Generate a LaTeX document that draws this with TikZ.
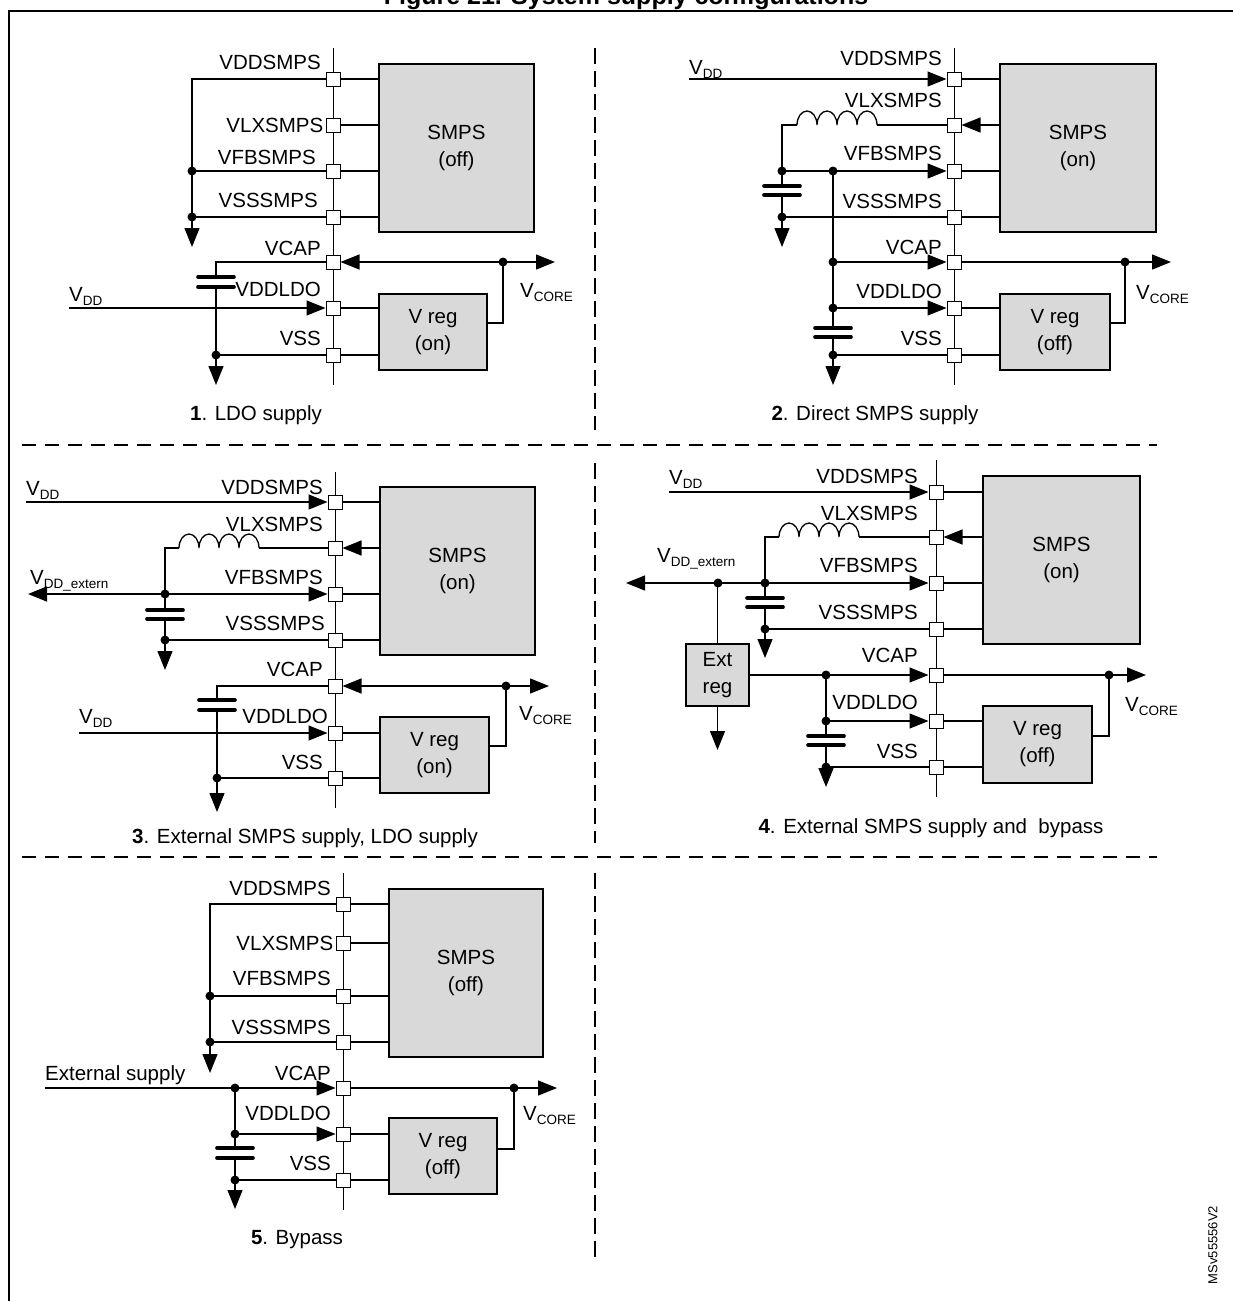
\documentclass[tikz,border=0pt]{standalone}
\usepackage{fontspec}
\setmainfont{Liberation Sans}
\usetikzlibrary{arrows.meta}
\newcommand\sbs[1]{\raisebox{-4pt}{\fontsize{13.5}{13.5}\selectfont #1}}
\newcommand\pinset[9]{\foreach \i/\yy in {1/#3,2/#4,3/#5,4/#6,5/#7,6/#8,7/#9}{\node[pin] (#1-\i) at (#2,\yy) {};}}
\newcommand\capac[3]{\draw[plate] (#1-18,#2) -- (#1+18,#2); \draw[plate] (#1-18,#3) -- (#1+18,#3);}
\newcommand\coil[2]{\draw[wire] (#1,#2) arc[start angle=0,end angle=-180,x radius=10,y radius=14] arc[start angle=0,end angle=-180,x radius=10,y radius=14] arc[start angle=0,end angle=-180,x radius=10,y radius=14] arc[start angle=0,end angle=-180,x radius=10,y radius=14];}
\newcommand\dotat[1]{\fill (#1) circle (4.5pt);}
\begin{document}
\begin{tikzpicture}[x=1pt,y=-1pt,font=\fontsize{20.5}{27}\selectfont,
  wire/.style={line width=1.3pt},
  bus/.style={line width=1pt},
  plate/.style={line width=3.6pt,line cap=round},
  pin/.style={draw,fill=white,line width=1pt,minimum size=14pt,inner sep=0pt},
  box/.style={draw,fill=gray!30,line width=1.3pt,align=center,inner sep=0pt},
  lbl/.style={inner sep=0pt},
  ar/.style={wire,-{Triangle[length=19pt,width=15pt]}},
  la/.style={wire,{Triangle[length=19pt,width=15pt]}-},
  lr/.style={wire,{Triangle[length=19pt,width=15pt]}-{Triangle[length=19pt,width=15pt]}},
  sep/.style={line width=1.2pt,dash pattern=on 14pt off 9pt},
  vsep/.style={line width=1.2pt,dash pattern=on 16pt off 7pt}]
\useasboundingbox (0,0) rectangle (1232,1301);
% frame and title
\draw[line width=1.3pt] (9,1310) -- (9,11) -- (1240,11);
\node[lbl,anchor=base,font=\bfseries\fontsize{25}{25}\selectfont] (title) at (626,4) {Figure 21. System supply configurations};
% separators
\draw[sep] (22,445) -- (1157,445);
\draw[sep] (22,857) -- (1157,857);
\draw[vsep] (595,48) -- (595,430);
\draw[vsep] (595,463) -- (595,843);
\draw[vsep] (595,873) -- (595,1257);

% ================= Panel 1
\draw[bus] (333,48) -- (333,385);
\pinset{a}{333}{79}{125}{171}{217}{262}{308}{355}
\node[box,minimum width=155pt,minimum height=168pt] (sa) at (456.5,148) {SMPS\\(off)};
\node[box,minimum width=108pt,minimum height=76pt] (va) at (433,332) {V reg\\(on)};
\foreach \i in {1,2,3,4}{\draw[wire] (a-\i.east) -- (sa.west |- a-\i);}
\foreach \i in {6,7}{\draw[wire] (a-\i.east) -- (va.west |- a-\i);}
\node[lbl,anchor=east] at (321,62) {VDDSMPS};
\node[lbl,anchor=east] at ([xshift=-2pt]a-2.west) {VLXSMPS};
\node[lbl,anchor=east] at (316,157) {VFBSMPS};
\node[lbl,anchor=east] at (318,200) {VSSSMPS};
\node[lbl,anchor=east] at (321,248) {VCAP};
\node[lbl,anchor=east] at (321,289) {VDDLDO};
\node[lbl,anchor=east] at (321,338) {VSS};
\coordinate (ga1) at (192,247);
\draw[ar] (a-1.west) -| (ga1);
\draw[wire] (192,171) -- (a-3.west);
\draw[wire] (192,217) -- (a-4.west);
\dotat{192,171}\dotat{192,217}
\draw[wire] (a-5.west) -- (216,262) -- (216,277);
\capac{216}{277}{287}
\draw[wire] (216,287) -- (216,355);
\draw[ar] (216,355) -- (216,385);
\draw[wire] (a-7.west) -- (216,355);
\dotat{216,355}
\draw[ar] (69,308) -- (a-6.west);
\node[lbl,anchor=base west] at (69,301) {V\sbs{DD}};
\draw[lr] (a-5.east) -- (555,262);
\dotat{503,262}
\draw[wire] (503,262) |- (va.east |- 0,323);
\node[lbl,anchor=west] at (520,293) {V\sbs{CORE}};
\node[lbl] at (256,415) {\textbf{1}. LDO supply};

% ================= Panel 2
\draw[bus] (954,48) -- (954,385);
\pinset{b}{954}{79}{125}{171}{217}{262}{308}{355}
\node[box,minimum width=156pt,minimum height=168pt] (sb) at (1078,148) {SMPS\\(on)};
\node[box,minimum width=110pt,minimum height=76pt] (vb) at (1055,332) {V reg\\(off)};
\foreach \i in {1,3,4}{\draw[wire] (b-\i.east) -- (sb.west |- b-\i);}
\foreach \i in {6,7}{\draw[wire] (b-\i.east) -- (vb.west |- b-\i);}
\draw[ar] (sb.west |- b-2) -- (b-2.east);
\node[lbl,anchor=east] at (942,58) {VDDSMPS};
\node[lbl,anchor=east] at (942,100) {VLXSMPS};
\node[lbl,anchor=east] at (942,153) {VFBSMPS};
\node[lbl,anchor=east] at (942,201) {VSSSMPS};
\node[lbl,anchor=east] at (942,247) {VCAP};
\node[lbl,anchor=east] at (942,291) {VDDLDO};
\node[lbl,anchor=east] at (942,338) {VSS};
\draw[ar] (689,79) -- (b-1.west);
\node[lbl,anchor=base west] at (689,74) {V\sbs{DD}};
\draw[wire] (b-2.west) -- (877,125);
\coil{877}{125}
\draw[wire] (797,125) -- (782,125) -- (782,186);
\capac{782}{186}{195}
\draw[wire] (782,195) -- (782,217);
\draw[ar] (782,217) -- (782,247);
\draw[ar] (782,171) -- (b-3.west);
\draw[wire] (b-4.west) -- (782,217);
\dotat{782,171}\dotat{833,171}\dotat{782,217}
\draw[wire] (833,171) -- (833,328);
\capac{833}{328}{337}
\draw[wire] (833,337) -- (833,355);
\draw[ar] (833,355) -- (833,385);
\draw[ar] (833,262) -- (b-5.west);
\draw[ar] (833,308) -- (b-6.west);
\draw[wire] (b-7.west) -- (833,355);
\dotat{833,262}\dotat{833,308}\dotat{833,355}
\draw[ar] (b-5.east) -- (1171,262);
\dotat{1125,262}
\draw[wire] (1125,262) |- (vb.east |- 0,323);
\node[lbl,anchor=west] at (1136,295) {V\sbs{CORE}};
\node[lbl] at (875,415) {\textbf{2}. Direct SMPS supply};

% ================= Panel 3
\draw[bus] (335,472) -- (335,808);
\pinset{c}{335}{502}{548}{594}{640}{686}{733}{778}
\node[box,minimum width=155pt,minimum height=168pt] (sc) at (457.5,571) {SMPS\\(on)};
\node[box,minimum width=109pt,minimum height=76pt] (vc) at (434.5,755) {V reg\\(on)};
\foreach \i in {1,3,4}{\draw[wire] (c-\i.east) -- (sc.west |- c-\i);}
\foreach \i in {6,7}{\draw[wire] (c-\i.east) -- (vc.west |- c-\i);}
\draw[ar] (sc.west |- c-2) -- (c-2.east);
\node[lbl,anchor=east] at (323,487) {VDDSMPS};
\node[lbl,anchor=east] at (323,524) {VLXSMPS};
\node[lbl,anchor=east] at (323,577) {VFBSMPS};
\node[lbl,anchor=east] at (325,623) {VSSSMPS};
\node[lbl,anchor=east] at (323,669) {VCAP};
\node[lbl,anchor=east] at (328,716) {VDDLDO};
\node[lbl,anchor=east] at (323,762) {VSS};
\draw[ar] (26,502) -- (c-1.west);
\node[lbl,anchor=base west] at (26,495) {V\sbs{DD}};
\draw[wire] (c-2.west) -- (259,548);
\coil{259}{548}
\draw[wire] (179,548) -- (165,548) -- (165,610);
\capac{165}{610}{619}
\draw[wire] (165,619) -- (165,640);
\draw[ar] (165,640) -- (165,670);
\draw[lr] (28,594) -- (c-3.west);
\node[lbl,anchor=base west] at (30,584) {V\sbs{DD\_extern}};
\draw[wire] (c-4.west) -- (165,640);
\dotat{165,594}\dotat{165,640}
\draw[lr] (c-5.east) -- (549,686);
\dotat{506,686}
\draw[wire] (506,686) |- (vc.east |- 0,746);
\draw[wire] (c-5.west) -- (217,686) -- (217,700);
\capac{217}{700}{710}
\draw[wire] (217,710) -- (217,778);
\draw[ar] (217,778) -- (217,812);
\draw[wire] (c-7.west) -- (217,778);
\dotat{217,778}
\draw[ar] (79,733) -- (c-6.west);
\node[lbl,anchor=base west] at (79,723) {V\sbs{DD}};
\node[lbl,anchor=west] at (519,716) {V\sbs{CORE}};
\node[lbl] at (305,838) {\textbf{3}. External SMPS supply, LDO supply};

% ================= Panel 4
\draw[bus] (936,460) -- (936,797);
\pinset{d}{936}{492}{537}{583}{629}{675}{721}{767}
\node[box,minimum width=157pt,minimum height=168pt] (sd) at (1061.5,560) {SMPS\\(on)};
\node[box,minimum width=109pt,minimum height=77pt] (vd) at (1037.5,744.5) {V reg\\(off)};
\node[box,minimum width=63pt,minimum height=62pt] (er) at (717.5,675) {Ext\\reg};
\foreach \i in {1,3,4}{\draw[wire] (d-\i.east) -- (sd.west |- d-\i);}
\foreach \i in {6,7}{\draw[wire] (d-\i.east) -- (vd.west |- d-\i);}
\draw[ar] (sd.west |- d-2) -- (d-2.east);
\node[lbl,anchor=east] at (918,476) {VDDSMPS};
\node[lbl,anchor=east] at (918,513) {VLXSMPS};
\node[lbl,anchor=east] at (918,565) {VFBSMPS};
\node[lbl,anchor=east] at (918,612) {VSSSMPS};
\node[lbl,anchor=east] at (918,655) {VCAP};
\node[lbl,anchor=east] at (918,702) {VDDLDO};
\node[lbl,anchor=east] at (918,751) {VSS};
\draw[ar] (669,492) -- (d-1.west);
\node[lbl,anchor=base west] at (669,484) {V\sbs{DD}};
\draw[wire] (d-2.west) -- (859,537);
\coil{859}{537}
\draw[wire] (779,537) -- (765,537) -- (765,598);
\capac{765}{598}{607}
\draw[wire] (765,607) -- (765,629);
\draw[ar] (765,629) -- (765,658);
\draw[lr] (626,583) -- (d-3.west);
\node[lbl,anchor=base west] at (657,562) {V\sbs{DD\_extern}};
\draw[wire] (d-4.west) -- (765,629);
\dotat{718,583}\dotat{765,583}\dotat{765,629}
\draw[wire] (717.5,583) -- (er.north);
\draw[ar] (er.south) -- (717.5,750);
\draw[ar] (er.east) -- (d-5.west);
\dotat{826,675}
\draw[ar] (d-5.east) -- (1146,675);
\dotat{1109,675}
\draw[wire] (1109,675) |- (vd.east |- 0,736);
\draw[wire] (826,675) -- (826,736);
\capac{826}{736}{745}
\draw[wire] (826,745) -- (826,767);
\draw[ar] (826,767) -- (826,787);
\draw[ar] (826,721) -- (d-6.west);
\draw[wire] (d-7.west) -- (826,767);
\dotat{826,721}\dotat{826,767}
\node[lbl,anchor=west] at (1125,707) {V\sbs{CORE}};
\node[lbl] at (931,828) {\textbf{4}. External SMPS supply and\ \ bypass};

% ================= Panel 5
\draw[bus] (343,873) -- (343,1210);
\pinset{e}{343}{904}{943}{996}{1042}{1088}{1134}{1180}
\node[box,minimum width=154pt,minimum height=168pt] (se) at (466,973) {SMPS\\(off)};
\node[box,minimum width=108pt,minimum height=76pt] (ve) at (443,1156) {V reg\\(off)};
\foreach \i in {1,2,3,4}{\draw[wire] (e-\i.east) -- (se.west |- e-\i);}
\foreach \i in {6,7}{\draw[wire] (e-\i.east) -- (ve.west |- e-\i);}
\node[lbl,anchor=east] at (331,888) {VDDSMPS};
\node[lbl,anchor=east] at ([xshift=-2pt]e-2.west) {VLXSMPS};
\node[lbl,anchor=east] at (331,978) {VFBSMPS};
\node[lbl,anchor=east] at (331,1027) {VSSSMPS};
\node[lbl,anchor=east] at (331,1073) {VCAP};
\node[lbl,anchor=east] at (331,1113) {VDDLDO};
\node[lbl,anchor=east] at (331,1163) {VSS};
\coordinate (ge1) at (210,1073);
\draw[ar] (e-1.west) -| (ge1);
\draw[wire] (210,996) -- (e-3.west);
\draw[wire] (210,1042) -- (e-4.west);
\dotat{210,996}\dotat{210,1042}
\draw[ar] (45,1088) -- (e-5.west);
\node[lbl,anchor=base west] at (45,1080) {External supply};
\dotat{235,1088}
\draw[wire] (235,1088) -- (235,1148);
\capac{235}{1148}{1158}
\draw[wire] (235,1158) -- (235,1180);
\draw[ar] (235,1180) -- (235,1209);
\draw[ar] (235,1134) -- (e-6.west);
\draw[wire] (e-7.west) -- (235,1180);
\dotat{235,1134}\dotat{235,1180}
\draw[ar] (e-5.east) -- (557,1088);
\dotat{514,1088}
\draw[wire] (514,1088) |- (ve.east |- 0,1149);
\node[lbl,anchor=west] at (523,1115) {V\sbs{CORE}};
\node[lbl] at (297,1240) {\textbf{5}. Bypass};

\node[lbl,rotate=90,font=\fontsize{13}{13}\selectfont] (code) at (1213,1245) {MSv55556V2};
\end{tikzpicture}
\end{document}
